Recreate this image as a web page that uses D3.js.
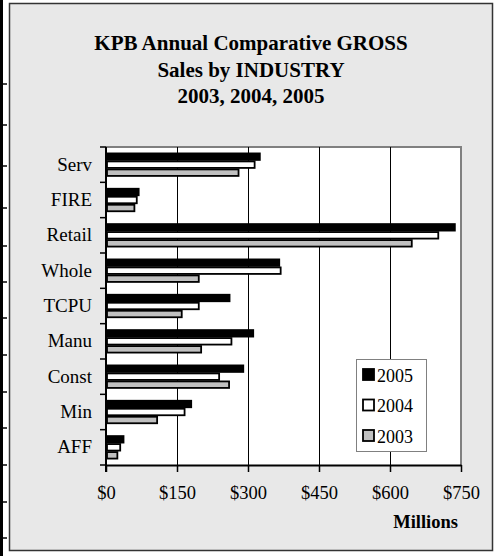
<!DOCTYPE html>
<html>
<head>
<meta charset="utf-8">
<script src="https://cdn.jsdelivr.net/npm/d3@7"></script>
<style>
  body { margin: 0; background: #fff; }
  svg text { font-family: "Liberation Serif", "Times New Roman", serif; fill: #000; }
</style>
</head>
<body>
<div id="app"></div>
<script>
const categories = ['Serv', 'FIRE', 'Retail', 'Whole', 'TCPU', 'Manu', 'Const', 'Min', 'AFF']
const years = ['2005', '2004', '2003']
const sales2005 = [325, 69, 737, 366, 261, 311, 290, 180, 37]
const sales2004 = [314, 65, 702, 369, 196, 265, 239, 166, 30]
const sales2003 = [280, 60, 646, 196, 160, 201, 260, 108, 24]
const xTicks = [0, 150, 300, 450, 600, 750]
const titleLines = ['KPB Annual Comparative GROSS', 'Sales by INDUSTRY', '2003, 2004, 2005']
const edgeTicks = [84, 125, 166, 208, 246, 282, 318, 355, 392, 428, 465, 502, 538]

const series = {'2005': sales2005, '2004': sales2004, '2003': sales2003}
const fills = {'2005': '#000', '2004': '#fff', '2003': '#c0c0c0'}

const width = 498, height = 556
const plot = {left: 106, right: 461, top: 147, bottom: 465}
const serif = '"Liberation Serif", "Times New Roman", serif'

const svg = d3.select('#app').append('svg')
    .attr('width', width)
    .attr('height', height)
    .attr('font-family', serif)

// page edge strip on the left
svg.append('rect').attr('x', 0).attr('y', 0).attr('width', 3).attr('height', height).attr('fill', '#000')
svg.selectAll('.edge-tick')
    .data(edgeTicks).enter()
    .append('line')
    .attr('x1', 0).attr('x2', 7)
    .attr('y1', d => d).attr('y2', d => d)
    .attr('stroke', '#000').attr('stroke-width', 1.5)

// chart frame
svg.append('rect')
    .attr('x', 9.5).attr('y', 3.5).attr('width', 483).attr('height', 547)
    .attr('fill', '#e8e8e8').attr('stroke', '#333').attr('stroke-width', 1.5)

svg.append('g').selectAll('text')
    .data(titleLines).enter()
    .append('text')
    .attr('x', 251)
    .attr('y', (d, i) => 50 + i * 26.5)
    .attr('text-anchor', 'middle')
    .style('font-size', '21px')
    .style('font-weight', 'bold')
    .text(d => d)

const x = d3.scaleLinear().domain([0, 750]).range([plot.left, plot.right])
const y = d3.scaleBand().domain(categories).range([plot.top, plot.bottom])
const groupH = 24
const yInner = d3.scaleBand().domain(years).range([0, groupH])

// plot area
svg.append('rect')
    .attr('x', plot.left).attr('y', plot.top)
    .attr('width', plot.right - plot.left).attr('height', plot.bottom - plot.top)
    .attr('fill', '#fff')
svg.append('path')
    .attr('d', `M${plot.left},${plot.top}H${plot.right}V${plot.bottom}`)
    .attr('fill', 'none').attr('stroke', '#808080').attr('stroke-width', 2)

// gridlines
svg.selectAll('.grid')
    .data(xTicks.slice(1, -1)).enter()
    .append('line')
    .attr('x1', d => x(d) + 0.5).attr('x2', d => x(d) + 0.5)
    .attr('y1', plot.top).attr('y2', plot.bottom)
    .attr('stroke', '#000').attr('stroke-width', 1)

// bars
const rows = categories.map((c, i) => ({cat: c, values: years.map(yr => ({year: yr, value: series[yr][i]}))}))
const groups = svg.selectAll('.cat')
    .data(rows).enter()
    .append('g')
    .attr('transform', d => `translate(0,${y(d.cat) + (y.bandwidth() - groupH) / 2})`)
groups.selectAll('rect')
    .data(d => d.values).enter()
    .append('rect')
    .attr('x', x(0) + 1)
    .attr('y', d => yInner(d.year) + 0.75)
    .attr('width', d => x(d.value) - x(0) - 1)
    .attr('height', yInner.bandwidth() - 1.5)
    .attr('fill', d => fills[d.year])
    .attr('stroke', '#000')
    .attr('stroke-width', 1.8)

// x axis
const xAxis = svg.append('g')
    .attr('transform', `translate(0,${plot.bottom})`)
    .call(d3.axisBottom(x).tickValues(xTicks).tickFormat(d => '$' + d).tickSizeInner(7).tickSizeOuter(0))
    .attr('font-family', serif)
xAxis.select('.domain').attr('stroke', '#000').attr('stroke-width', 2)
xAxis.selectAll('.tick line').attr('stroke', '#000').attr('stroke-width', 1.5)
xAxis.selectAll('.tick text')
    .attr('y', 34).attr('dy', 0)
    .style('font-size', '18.5px')
    .attr('fill', '#000')

// y axis
const yAxis = svg.append('g')
    .attr('transform', `translate(${plot.left},0)`)
    .call(d3.axisLeft(y).tickSize(0).tickPadding(14))
    .attr('font-family', serif)
yAxis.select('.domain').attr('stroke', '#000').attr('stroke-width', 2)
    .attr('d', `M0,${plot.top}V${plot.bottom + 7}`)
yAxis.selectAll('.tick text')
    .style('font-size', '19px')
    .attr('fill', '#000')
svg.selectAll('.ytick')
    .data(categories.map(c => y(c)).concat([plot.bottom])).enter()
    .append('line')
    .attr('x1', plot.left - 6).attr('x2', plot.left)
    .attr('y1', d => d).attr('y2', d => d)
    .attr('stroke', '#000').attr('stroke-width', 1.5)

svg.append('text')
    .attr('x', 458).attr('y', 528)
    .attr('text-anchor', 'end')
    .style('font-size', '18.5px')
    .style('font-weight', 'bold')
    .text('Millions')

// legend
const legend = svg.append('g').attr('transform', 'translate(356,359)')
legend.append('rect')
    .attr('x', 0.5).attr('y', 0.5).attr('width', 70).attr('height', 92)
    .attr('fill', '#fff').attr('stroke', '#808080').attr('stroke-width', 1)
const items = legend.selectAll('.item')
    .data(years).enter()
    .append('g')
    .attr('transform', (d, i) => `translate(0,${16 + i * 30.5})`)
items.append('rect')
    .attr('x', 7).attr('y', -6).attr('width', 11).attr('height', 11)
    .attr('fill', d => fills[d]).attr('stroke', '#000').attr('stroke-width', 1.8)
items.append('text')
    .attr('x', 21).attr('y', 6.5)
    .style('font-size', '18px')
    .text(d => d)
</script>
</body>
</html>
